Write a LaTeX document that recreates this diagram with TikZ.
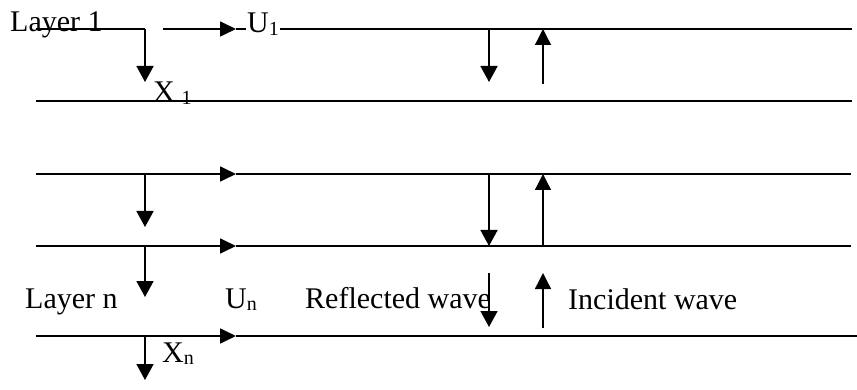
\documentclass[tikz,border=0pt]{standalone}
\usepackage{fontspec}
\setmainfont{Liberation Serif}
\usetikzlibrary{arrows.meta}
\newcommand{\lsub}[1]{\raisebox{-2.5pt}{\fontsize{20}{20}\selectfont #1}}
\begin{document}
\begin{tikzpicture}[x=1pt,y=-1pt,
  rule/.style={line width=1.7pt},
  arr/.style={line width=1.6pt,-{Triangle[length=16pt,width=17pt]}},
  thinarr/.style={line width=1.3pt,-{Triangle[length=16pt,width=16pt]}},
  harr/.style={line width=1.7pt,-{Triangle[length=16pt,width=15pt]}},
  lab/.style={anchor=base west, inner sep=0pt, font=\fontsize{30}{32}\selectfont}]
\useasboundingbox (0,0) rectangle (857,390);
% line endpoints
\coordinate (l1a) at (36,29);  \coordinate (l1b) at (145,29);
\coordinate (l1c) at (163,29); \coordinate (l1d) at (236,29); \coordinate (l1e) at (852,29);
\coordinate (l2a) at (36,101); \coordinate (l2e) at (852,101);
\coordinate (l3a) at (36,174); \coordinate (l3m) at (236,174); \coordinate (l3e) at (851,174);
\coordinate (l4a) at (36,246); \coordinate (l4m) at (236,246); \coordinate (l4e) at (851,246);
\coordinate (l5a) at (36,336); \coordinate (l5m) at (236,336); \coordinate (l5e) at (857,336);
% labels
\node[lab] (lay1) at (10,32) {Layer 1};
\node[lab] (layn) at (25,308) {Layer n};
\node[lab] (refl) at (305,308) {Reflected wave};
\node[lab] (inc) at (568,309) {Incident wave};
% horizontal lines
\draw[rule] (l1a) -- (l1b);
\draw[harr] (l1c) -- (l1d);
\draw[rule] (l1d) -- (l1e);
\draw[rule] (l2a) -- (l2e);
\draw[harr] (l3a) -- (l3m); \draw[rule] (l3m) -- (l3e);
\draw[harr] (l4a) -- (l4m); \draw[rule] (l4m) -- (l4e);
\draw[harr] (l5a) -- (l5m); \draw[rule] (l5m) -- (l5e);
% labels over lines
\node[lab, fill=white, inner sep=1pt] (u1) at (246,33) {U\lsub{1}};
\node[lab] (x1) at (153,102) {X\lsub{\,\,1}};
\node[lab] (un) at (225,308) {U\lsub{n}};
\node[lab] (xn) at (162,362) {X\lsub{n}};
% left vertical arrows
\coordinate (v1a) at (145,29);  \coordinate (v1b) at (145,82);
\coordinate (v2a) at (145,174); \coordinate (v2b) at (145,227);
\coordinate (v3a) at (145,246); \coordinate (v3b) at (145,297);
\coordinate (v4a) at (145,336); \coordinate (v4b) at (145,380);
\draw[arr] (v1a) -- (v1b);
\draw[arr] (v2a) -- (v2b);
\draw[arr] (v3a) -- (v3b);
\draw[arr] (v4a) -- (v4b);
% reflected (down) arrows
\coordinate (r1a) at (489,29);  \coordinate (r1b) at (489,82);
\coordinate (r2a) at (489,174); \coordinate (r2b) at (489,246);
\coordinate (r3a) at (489,273); \coordinate (r3b) at (489,327);
\draw[arr] (r1a) -- (r1b);
\draw[arr] (r2a) -- (r2b);
\draw[arr] (r3a) -- (r3b);
% incident (up) arrows
\coordinate (i1a) at (543,84);  \coordinate (i1b) at (543,29);
\coordinate (i2a) at (543,246); \coordinate (i2b) at (543,174);
\coordinate (i3a) at (543,328); \coordinate (i3b) at (543,273);
\draw[thinarr] (i1a) -- (i1b);
\draw[thinarr] (i2a) -- (i2b);
\draw[thinarr] (i3a) -- (i3b);
\end{tikzpicture}
\end{document}
